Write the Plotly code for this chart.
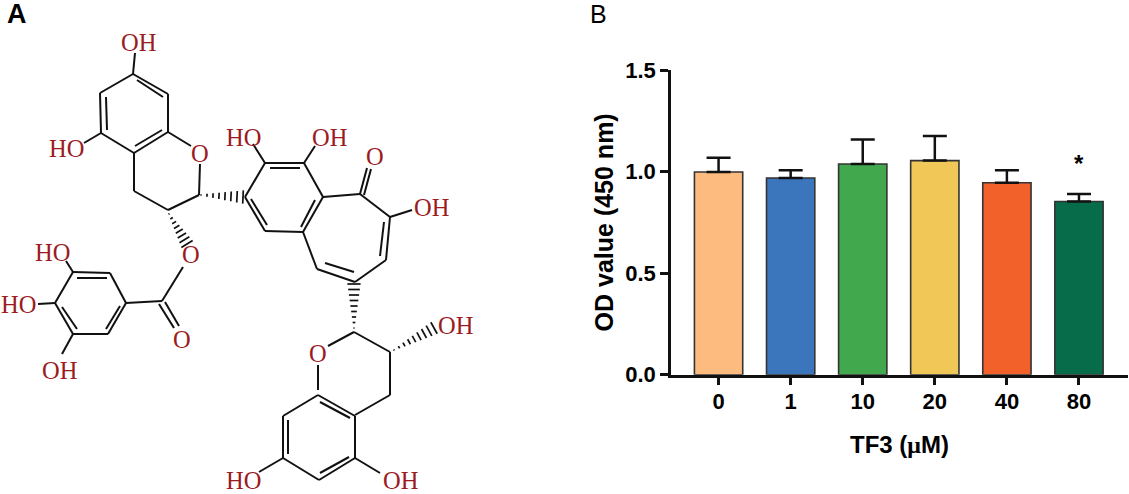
import numpy as np
import plotly.graph_objects as go

W, H = 1129, 494

# Panel B data
doses = ["0", "1", "10", "20", "40", "80"]
od_mean = [0.998, 0.968, 1.037, 1.054, 0.945, 0.853]
od_upper = [1.068, 1.006, 1.158, 1.175, 1.006, 0.889]
bar_colors = ["#FDBB7F", "#3B76BC", "#41A84D", "#F1C857", "#F2612A", "#066C49"]
y_ticks = [0, 0.5, 1.0, 1.5]
y_tick_labels = ["0.0", "0.5", "1.0", "1.5"]

# Panel A, TF3 structure in picture pixels
bonds = [
    # upper chroman
    ((133, 74), (168, 94)), ((168, 94), (168, 132)), ((168, 132), (134, 153)),
    ((134, 153), (101, 133)), ((101, 133), (100, 93)), ((100, 93), (133, 74)),
    ((137, 80), (163, 97)), ((106, 97), (107, 130)), ((135, 146), (162, 130)),
    ((133, 74), (135, 53)), ((101, 133), (84, 143)), ((168, 132), (191, 146)),
    ((200, 164), (199, 195)), ((134, 153), (134, 191)), ((134, 191), (168, 210)),
    ((168, 210), (199, 195)),
    # benzene part of the tropolone
    ((245, 197), (265, 163)), ((265, 163), (304, 163)), ((304, 163), (323, 197)),
    ((323, 197), (303, 232)), ((303, 232), (265, 231)), ((265, 231), (245, 197)),
    ((270, 168), (300, 168)), ((315, 200), (301, 227)), ((251, 199), (267, 225)),
    ((265, 163), (253, 144)), ((304, 163), (315, 146)),
    # seven membered ring
    ((323, 197), (360, 194)), ((360, 194), (390, 217)), ((390, 217), (386, 260)),
    ((386, 260), (355, 282)), ((355, 282), (317, 269)), ((317, 269), (303, 232)),
    ((384, 222), (380, 256)), ((325, 263), (354, 272)),
    ((360, 194), (367, 168)), ((364, 195), (371, 169)), ((390, 217), (412, 210)),
    # lower chroman
    ((354, 332), (328, 346)), ((354, 332), (390, 352)), ((390, 352), (390, 395)),
    ((390, 395), (355, 415)), ((318, 365), (318, 390)),
    ((318, 395), (355, 416)), ((355, 416), (355, 458)), ((355, 458), (319, 480)),
    ((319, 480), (283, 458)), ((283, 458), (283, 416)), ((283, 416), (318, 395)),
    ((320, 402), (350, 418)), ((288, 420), (288, 454)), ((320, 473), (349, 457)),
    ((283, 458), (259, 472)), ((355, 458), (380, 473)),
    # gallate
    ((73, 272), (110, 273)), ((110, 273), (126, 303)), ((126, 303), (108, 334)),
    ((108, 334), (73, 334)), ((73, 334), (55, 303)), ((55, 303), (73, 272)),
    ((77, 278), (107, 278)), ((120, 306), (106, 329)), ((62, 307), (77, 329)),
    ((126, 303), (162, 301)), ((162, 301), (183, 267)),
    ((159, 304), (174, 328)), ((165, 302), (179, 326)),
    ((73, 272), (66, 261)), ((55, 303), (38, 304)), ((73, 334), (62, 354)),
]
# narrow end, wide end, number of dashes
hashed_bonds = [
    ((201, 195), (243, 197), 8),
    ((169, 214), (187, 244), 8),
    ((354, 328), (354, 284), 9),
    ((394, 350), (434, 328), 9),
]
atom_labels = [
    ("OH", 138, 42), ("HO", 66, 148), ("O", 200, 153), ("HO", 243, 137),
    ("OH", 329, 137), ("O", 375, 156), ("OH", 431, 207), ("O", 191, 254),
    ("O", 182, 339), ("HO", 52, 252), ("HO", 18, 304), ("OH", 59, 370),
    ("OH", 455, 325), ("O", 318, 353), ("HO", 243, 480), ("OH", 400, 480),
]

fig = go.Figure()

# bars with upper error only
fig.add_trace(
    go.Bar(
        x=doses,
        y=od_mean,
        width=0.67,
        marker=dict(color=bar_colors, line=dict(color="#333333", width=1.6)),
        error_y=dict(
            type="data",
            symmetric=False,
            array=[u - m for u, m in zip(od_upper, od_mean)],
            arrayminus=[0] * len(od_mean),
            color="#111111",
            thickness=2.5,
            width=12,
        ),
        showlegend=False,
    )
)

# structure lines
bx, by = [], []
for a, b in bonds:
    bx += [a[0], b[0], None]
    by += [a[1], b[1], None]
hx, hy = [], []
for a, b, n in hashed_bonds:
    a, b = np.array(a, float), np.array(b, float)
    d = (b - a) / np.linalg.norm(b - a)
    perp = np.array([-d[1], d[0]])
    for t in np.linspace(0, 1, n):
        c = a + (b - a) * t
        half = 0.6 + 6 * t
        hx += [c[0] - perp[0] * half, c[0] + perp[0] * half, None]
        hy += [c[1] - perp[1] * half, c[1] + perp[1] * half, None]

for xs, ys, lw in [(bx, by, 2), (hx, hy, 1.7)]:
    fig.add_trace(
        go.Scatter(
            x=xs, y=ys, mode="lines", xaxis="x2", yaxis="y2",
            line=dict(color="#111111", width=lw),
            showlegend=False, hoverinfo="skip",
        )
    )

annotations = [
    dict(text=t, x=x, y=y, xref="x2", yref="y2", showarrow=False,
         font=dict(family="Liberation Serif", size=24.5, color="#9B1C1F"))
    for t, x, y in atom_labels
]
annotations += [
    dict(text="<b>A</b>", x=17, y=14, xref="x2", yref="y2", showarrow=False,
         font=dict(family="Liberation Sans", size=27, color="black")),
    dict(text="B", x=598, y=14, xref="x2", yref="y2", showarrow=False,
         font=dict(family="Liberation Sans", size=25, color="black")),
    dict(text="<b>*</b>", x=5, y=1.038, xref="x", yref="y", showarrow=False,
         font=dict(family="Liberation Sans", size=24, color="black")),
]

fig.update_layout(
    width=W,
    height=H,
    margin=dict(l=0, r=0, t=0, b=0),
    paper_bgcolor="white",
    plot_bgcolor="rgba(0,0,0,0)",
    annotations=annotations,
    xaxis=dict(
        domain=[671 / W, 1128 / W],
        type="category",
        range=[-0.66, 5.68],
        automargin=False,
        showgrid=False,
        zeroline=False,
        showline=True,
        linecolor="#111111",
        linewidth=2.5,
        ticks="outside",
        ticklen=8,
        tickwidth=2.5,
        tickcolor="#111111",
        tickfont=dict(family="Liberation Sans", size=22, color="black"),
        ticklabelstandoff=-3,
        tickprefix="<b>",
        ticksuffix="</b>",
        title=dict(
            text='<b>TF3 (<span style="font-family:Liberation Serif">μ</span>M)</b>',
            font=dict(family="Liberation Sans", size=24, color="black"),
            standoff=24,
        ),
    ),
    yaxis=dict(
        domain=[1 - 374.7 / H, 1 - 70 / H],
        range=[0, 1.5],
        automargin=False,
        tickmode="array",
        tickvals=y_ticks,
        ticktext=["<b>%s</b>" % s for s in y_tick_labels],
        showgrid=False,
        zeroline=False,
        showline=True,
        linecolor="#111111",
        linewidth=2.5,
        ticks="outside",
        ticklen=8,
        tickwidth=2.5,
        tickcolor="#111111",
        tickfont=dict(family="Liberation Sans", size=22, color="black"),
        title=dict(
            text="<b>OD value (450 nm)</b>",
            font=dict(family="Liberation Sans", size=25, color="black"),
            standoff=5,
        ),
    ),
    xaxis2=dict(domain=[0, 1], range=[0, W], visible=False, fixedrange=True),
    yaxis2=dict(domain=[0, 1], range=[H, 0], visible=False, fixedrange=True),
)

# the page keeps the browser's 8px body margin otherwise
fig.write_html(
    "out.html",
    config=dict(displayModeBar=False),
    post_script="document.body.style.margin='0';",
)
